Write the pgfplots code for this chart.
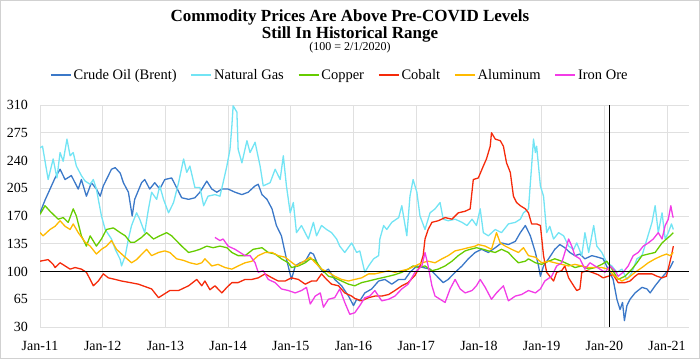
\documentclass[border=0pt]{standalone}
\usepackage{pgfplots}
\pgfplotsset{compat=1.18}
\usepackage{fontspec}
\setmainfont{Liberation Serif}
\definecolor{oil}{HTML}{3B78C8}
\definecolor{gas}{HTML}{72E4F4}
\definecolor{copper}{HTML}{66CC00}
\definecolor{cobalt}{HTML}{F52A0A}
\definecolor{alum}{HTML}{FFBA00}
\definecolor{iron}{HTML}{F23CE6}
\begin{document}
\begin{tikzpicture}
\useasboundingbox (0,0) rectangle (700pt,359pt);
\draw[black!18] (0.5pt,0.5pt) rectangle (699.5pt,358.5pt);
\node[anchor=base,font=\fontsize{17}{20}\selectfont\bfseries] at (350pt,337pt) {Commodity Prices Are Above Pre-COVID Levels};
\node[anchor=base,font=\fontsize{17}{20}\selectfont\bfseries] at (350pt,320.5pt) {Still In Historical Range};
\node[anchor=base,font=\fontsize{12}{14}\selectfont] at (350pt,308.5pt) {(100 = 2/1/2020)};
\begin{axis}[
  at={(40pt,32pt)}, anchor=south west,
  scale only axis, width=649pt, height=222pt,
  xmin=2011, xmax=2021.35, ymin=30, ymax=310,
  xtick={2011,2012,2013,2014,2015,2016,2017,2018,2019,2020,2021},
  xticklabels={Jan-11,Jan-12,Jan-13,Jan-14,Jan-15,Jan-16,Jan-17,Jan-18,Jan-19,Jan-20,Jan-21},
  ytick={30,65,100,135,170,205,240,275,310},
  major tick length=0pt,
  axis line style={draw=none},
  xmajorgrids, ymajorgrids,
  grid style={black!12, line width=0.8pt},
  /pgf/number format/assume math mode=true,
  ticklabel style={font=\fontsize{14}{16}\selectfont},
  yticklabel style={inner sep=0pt, anchor=east, xshift=-12pt},
  xticklabel style={inner sep=0pt, anchor=base, yshift=-23pt},
  legend columns=6,
  legend style={at={(0.462,1.135)}, anchor=center, draw=none, fill=none,
    font=\fontsize{14.5}{16}\selectfont, inner sep=0pt,
    /tikz/every even column/.append style={column sep=12pt}},
  legend image code/.code={\draw[#1, line width=1.5pt] (0pt,0pt) -- (20pt,0pt);},
  every axis plot/.append style={line width=1.3pt, line join=round, mark=none},
]
\addplot[oil] coordinates {(2011.00,174)(2011.08,190)(2011.16,204)(2011.24,218)(2011.32,229)(2011.40,216)(2011.50,221)(2011.61,204)(2011.66,216)(2011.74,195)(2011.82,212)(2011.90,204)(2011.96,195)(2012.01,208)(2012.14,229)(2012.20,231)(2012.28,224)(2012.33,212)(2012.41,200)(2012.47,170)(2012.51,191)(2012.62,212)(2012.67,216)(2012.75,204)(2012.83,212)(2012.91,204)(2012.99,216)(2013.10,218)(2013.26,193)(2013.37,191)(2013.47,193)(2013.55,200)(2013.66,214)(2013.74,204)(2013.82,200)(2013.90,204)(2014.00,204)(2014.11,200)(2014.22,197)(2014.32,200)(2014.43,208)(2014.48,210)(2014.54,197)(2014.62,191)(2014.70,179)(2014.77,158)(2014.85,145)(2014.93,116)(2015.01,90)(2015.07,107)(2015.15,111)(2015.23,113)(2015.31,124)(2015.36,122)(2015.44,107)(2015.52,99)(2015.60,103)(2015.70,90)(2015.81,82)(2015.92,69)(2016.00,57)(2016.05,65)(2016.10,63)(2016.18,73)(2016.29,78)(2016.40,88)(2016.50,90)(2016.61,84)(2016.72,90)(2016.82,90)(2016.90,99)(2017.01,107)(2017.11,105)(2017.22,103)(2017.33,94)(2017.43,86)(2017.51,90)(2017.62,99)(2017.73,107)(2017.83,116)(2017.94,124)(2018.04,128)(2018.15,124)(2018.26,130)(2018.36,136)(2018.47,134)(2018.58,138)(2018.66,149)(2018.74,158)(2018.82,145)(2018.90,124)(2018.95,107)(2018.98,94)(2019.03,107)(2019.11,116)(2019.21,128)(2019.29,134)(2019.37,130)(2019.45,124)(2019.53,120)(2019.61,122)(2019.69,116)(2019.80,120)(2019.90,118)(2019.98,116)(2020.06,103)(2020.14,90)(2020.20,65)(2020.25,52)(2020.29,61)(2020.32,38)(2020.36,57)(2020.41,65)(2020.49,73)(2020.60,80)(2020.68,78)(2020.73,73)(2020.81,82)(2020.89,90)(2020.99,99)(2021.05,105)(2021.10,113)};
\addlegendentry{Crude Oil (Brent)}
\addplot[gas] coordinates {(2011.00,256)(2011.04,258)(2011.13,216)(2011.21,242)(2011.27,218)(2011.32,250)(2011.37,239)(2011.43,267)(2011.48,246)(2011.53,250)(2011.58,233)(2011.66,221)(2011.72,214)(2011.80,210)(2011.85,216)(2011.90,204)(2011.93,191)(2011.98,170)(2012.04,153)(2012.14,141)(2012.20,128)(2012.28,115)(2012.30,107)(2012.36,120)(2012.41,141)(2012.46,158)(2012.54,174)(2012.59,166)(2012.67,149)(2012.73,179)(2012.78,200)(2012.86,191)(2012.91,208)(2012.97,191)(2013.05,174)(2013.13,187)(2013.21,212)(2013.29,242)(2013.34,225)(2013.39,233)(2013.47,206)(2013.55,206)(2013.61,183)(2013.68,195)(2013.79,197)(2013.87,195)(2013.92,212)(2013.98,233)(2014.03,254)(2014.06,284)(2014.08,309)(2014.14,301)(2014.16,254)(2014.22,237)(2014.30,265)(2014.35,250)(2014.43,263)(2014.51,233)(2014.56,208)(2014.67,212)(2014.75,229)(2014.83,216)(2014.88,246)(2014.93,208)(2014.99,174)(2015.04,187)(2015.09,149)(2015.17,158)(2015.28,141)(2015.36,162)(2015.41,145)(2015.49,158)(2015.57,153)(2015.65,149)(2015.73,141)(2015.78,132)(2015.86,124)(2015.97,136)(2016.05,124)(2016.10,126)(2016.18,99)(2016.24,107)(2016.32,116)(2016.40,120)(2016.42,141)(2016.48,158)(2016.53,153)(2016.61,162)(2016.72,168)(2016.77,183)(2016.85,145)(2016.90,195)(2016.95,216)(2017.01,200)(2017.06,170)(2017.14,153)(2017.22,174)(2017.30,179)(2017.38,187)(2017.43,166)(2017.51,164)(2017.62,166)(2017.73,162)(2017.81,158)(2017.89,166)(2017.96,158)(2018.02,179)(2018.07,149)(2018.15,145)(2018.26,153)(2018.36,149)(2018.47,160)(2018.58,162)(2018.66,166)(2018.71,174)(2018.79,179)(2018.84,233)(2018.87,267)(2018.90,250)(2018.92,258)(2018.95,233)(2018.98,208)(2019.03,195)(2019.08,149)(2019.13,157)(2019.19,141)(2019.27,149)(2019.35,145)(2019.43,132)(2019.51,128)(2019.56,136)(2019.64,120)(2019.69,149)(2019.75,124)(2019.83,158)(2019.88,132)(2019.96,124)(2020.04,111)(2020.12,107)(2020.20,99)(2020.28,103)(2020.36,90)(2020.44,99)(2020.52,116)(2020.60,120)(2020.68,141)(2020.76,162)(2020.81,183)(2020.86,149)(2020.92,174)(2020.97,141)(2021.02,149)(2021.07,160)(2021.10,153)};
\addlegendentry{Natural Gas}
\addplot[copper] coordinates {(2011.00,172)(2011.08,183)(2011.16,176)(2011.29,166)(2011.37,168)(2011.45,162)(2011.53,179)(2011.58,170)(2011.66,145)(2011.74,132)(2011.80,145)(2011.90,132)(2011.98,141)(2012.06,153)(2012.17,155)(2012.28,149)(2012.36,145)(2012.44,137)(2012.51,137)(2012.62,143)(2012.70,149)(2012.81,141)(2012.91,145)(2013.02,149)(2013.10,145)(2013.26,132)(2013.37,124)(2013.47,126)(2013.55,128)(2013.66,132)(2013.76,130)(2013.87,132)(2013.98,130)(2014.06,124)(2014.16,120)(2014.27,120)(2014.40,128)(2014.54,130)(2014.64,124)(2014.75,122)(2014.85,116)(2014.96,111)(2015.01,105)(2015.12,107)(2015.23,111)(2015.31,116)(2015.39,114)(2015.49,103)(2015.60,94)(2015.70,92)(2015.81,88)(2015.92,84)(2016.02,82)(2016.13,86)(2016.24,88)(2016.34,90)(2016.45,92)(2016.56,94)(2016.66,96)(2016.77,99)(2016.87,103)(2016.95,107)(2017.03,105)(2017.14,107)(2017.25,101)(2017.35,103)(2017.46,107)(2017.57,113)(2017.67,120)(2017.78,126)(2017.86,128)(2017.96,130)(2018.07,128)(2018.15,126)(2018.26,124)(2018.36,128)(2018.47,124)(2018.55,117)(2018.63,111)(2018.74,113)(2018.79,116)(2018.90,111)(2019.00,109)(2019.11,113)(2019.21,116)(2019.32,113)(2019.43,109)(2019.53,105)(2019.64,107)(2019.75,103)(2019.85,105)(2019.96,109)(2020.04,113)(2020.12,103)(2020.22,90)(2020.33,94)(2020.44,103)(2020.52,111)(2020.60,120)(2020.70,122)(2020.81,124)(2020.92,136)(2020.99,141)(2021.05,145)(2021.10,149)};
\addlegendentry{Copper}
\addplot[cobalt] coordinates {(2011.00,113)(2011.13,115)(2011.21,109)(2011.24,105)(2011.32,111)(2011.40,107)(2011.48,103)(2011.56,105)(2011.66,103)(2011.74,99)(2011.80,90)(2011.85,82)(2011.93,88)(2012.01,97)(2012.09,92)(2012.20,90)(2012.30,88)(2012.44,86)(2012.57,84)(2012.78,78)(2012.89,67)(2012.97,71)(2013.07,76)(2013.21,76)(2013.37,82)(2013.50,90)(2013.58,82)(2013.63,88)(2013.71,77)(2013.79,82)(2013.90,73)(2013.98,80)(2014.06,86)(2014.16,86)(2014.27,90)(2014.38,90)(2014.48,92)(2014.59,97)(2014.70,92)(2014.80,88)(2014.91,88)(2015.01,92)(2015.12,90)(2015.23,84)(2015.33,88)(2015.41,88)(2015.49,97)(2015.57,90)(2015.65,84)(2015.76,82)(2015.86,73)(2015.97,69)(2016.02,66)(2016.13,63)(2016.24,67)(2016.34,69)(2016.45,69)(2016.56,71)(2016.66,76)(2016.77,82)(2016.87,86)(2016.98,95)(2017.06,107)(2017.11,120)(2017.14,141)(2017.19,153)(2017.25,162)(2017.35,164)(2017.46,168)(2017.57,166)(2017.67,174)(2017.78,176)(2017.86,179)(2017.91,216)(2017.99,218)(2018.07,233)(2018.12,242)(2018.18,258)(2018.20,275)(2018.26,267)(2018.34,265)(2018.39,258)(2018.44,237)(2018.50,225)(2018.55,195)(2018.60,187)(2018.66,183)(2018.74,179)(2018.79,174)(2018.84,160)(2018.92,160)(2018.98,158)(2019.03,120)(2019.08,99)(2019.13,94)(2019.19,88)(2019.24,99)(2019.32,101)(2019.37,107)(2019.43,92)(2019.51,82)(2019.56,76)(2019.61,78)(2019.64,99)(2019.72,101)(2019.80,99)(2019.90,96)(2019.98,92)(2020.06,94)(2020.14,96)(2020.22,86)(2020.33,86)(2020.41,88)(2020.49,94)(2020.54,97)(2020.65,97)(2020.76,97)(2020.84,94)(2020.92,92)(2020.99,94)(2021.03,107)(2021.07,120)(2021.10,132)};
\addlegendentry{Cobalt}
\addplot[alum] coordinates {(2011.00,149)(2011.05,145)(2011.16,153)(2011.24,157)(2011.32,164)(2011.40,157)(2011.48,153)(2011.53,160)(2011.61,149)(2011.72,137)(2011.80,132)(2011.90,122)(2011.98,128)(2012.06,132)(2012.14,139)(2012.22,128)(2012.33,120)(2012.46,111)(2012.54,115)(2012.70,128)(2012.78,120)(2012.89,124)(2012.99,126)(2013.07,124)(2013.18,116)(2013.29,114)(2013.39,111)(2013.50,109)(2013.58,111)(2013.63,116)(2013.74,107)(2013.84,109)(2013.95,105)(2014.06,103)(2014.16,107)(2014.27,111)(2014.38,113)(2014.48,120)(2014.59,124)(2014.70,124)(2014.80,120)(2014.91,118)(2014.99,113)(2015.09,107)(2015.17,111)(2015.31,118)(2015.39,111)(2015.49,103)(2015.60,99)(2015.70,94)(2015.81,90)(2015.92,88)(2016.02,90)(2016.13,92)(2016.24,97)(2016.34,97)(2016.45,99)(2016.56,101)(2016.66,99)(2016.77,101)(2016.87,103)(2016.98,107)(2017.09,111)(2017.19,113)(2017.30,111)(2017.41,116)(2017.51,120)(2017.62,126)(2017.73,128)(2017.83,130)(2017.94,132)(2017.99,134)(2018.10,132)(2018.20,128)(2018.28,149)(2018.34,136)(2018.42,132)(2018.52,128)(2018.63,124)(2018.71,130)(2018.79,120)(2018.90,118)(2019.00,111)(2019.11,113)(2019.21,111)(2019.32,109)(2019.43,107)(2019.53,109)(2019.64,107)(2019.75,105)(2019.85,105)(2019.96,105)(2020.06,103)(2020.17,94)(2020.28,88)(2020.38,92)(2020.49,99)(2020.60,105)(2020.70,111)(2020.81,116)(2020.92,120)(2020.99,122)(2021.05,120)(2021.10,124)};
\addlegendentry{Aluminum}
\addplot[iron] coordinates {(2013.79,143)(2013.87,139)(2013.92,141)(2014.00,132)(2014.11,128)(2014.19,124)(2014.27,120)(2014.35,120)(2014.43,111)(2014.48,99)(2014.56,101)(2014.64,90)(2014.75,86)(2014.85,78)(2014.96,76)(2015.07,73)(2015.17,76)(2015.25,80)(2015.31,59)(2015.39,69)(2015.47,73)(2015.52,55)(2015.60,65)(2015.70,67)(2015.78,78)(2015.86,61)(2015.94,46)(2016.02,48)(2016.10,57)(2016.18,67)(2016.26,69)(2016.34,76)(2016.45,63)(2016.56,65)(2016.66,69)(2016.77,78)(2016.87,84)(2016.98,99)(2017.09,107)(2017.14,124)(2017.19,107)(2017.25,82)(2017.30,69)(2017.38,65)(2017.46,61)(2017.54,78)(2017.62,90)(2017.70,78)(2017.78,73)(2017.89,76)(2017.96,82)(2018.02,90)(2018.10,80)(2018.20,65)(2018.28,73)(2018.39,82)(2018.47,63)(2018.58,69)(2018.68,71)(2018.79,76)(2018.90,73)(2018.98,78)(2019.05,88)(2019.16,94)(2019.24,107)(2019.32,111)(2019.37,124)(2019.43,141)(2019.48,132)(2019.53,120)(2019.61,116)(2019.69,103)(2019.77,111)(2019.85,107)(2019.93,103)(2020.01,99)(2020.09,107)(2020.17,101)(2020.22,94)(2020.30,99)(2020.38,107)(2020.46,120)(2020.54,124)(2020.62,132)(2020.70,136)(2020.78,141)(2020.86,149)(2020.92,141)(2020.97,158)(2021.02,166)(2021.06,183)(2021.09,170)(2021.10,168)};
\addlegendentry{Iron Ore}
\draw[black, line width=0.9pt] (axis cs:2011,100) -- (axis cs:2021.35,100);
\draw[black, line width=0.7pt] (axis cs:2020.085,30) -- (axis cs:2020.085,310);
\end{axis}
\end{tikzpicture}
\end{document}
